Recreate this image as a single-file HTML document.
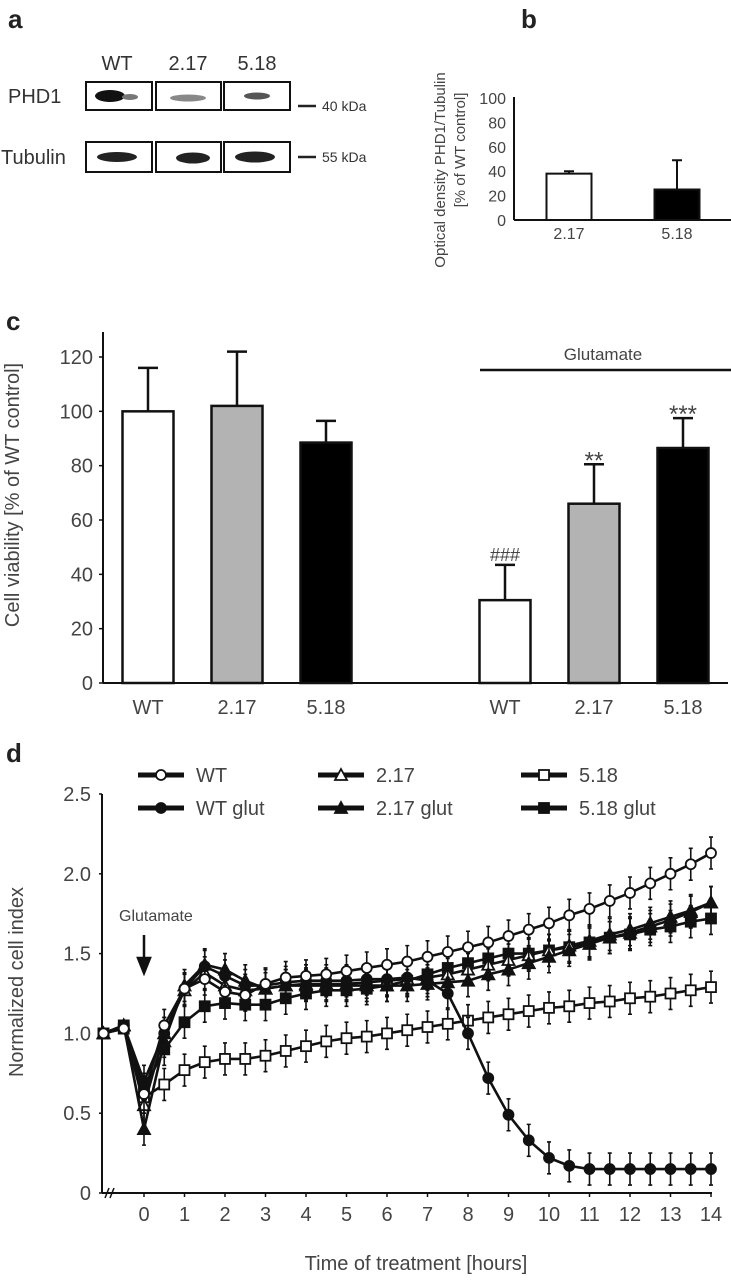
<!DOCTYPE html>
<html><head><meta charset="utf-8"><style>
html,body{margin:0;padding:0;background:#fff;}
svg{display:block;font-family:"Liberation Sans",Arial,sans-serif;}
</style></head><body>
<svg id="fig" width="731" height="1283" viewBox="0 0 731 1283" xmlns="http://www.w3.org/2000/svg">
<g id="pa">
<text x="8" y="28" font-size="26" font-weight="bold" fill="#222">a</text>
<text x="117" y="70" font-size="20" text-anchor="middle" fill="#333">WT</text>
<text x="188" y="70" font-size="20" text-anchor="middle" fill="#333">2.17</text>
<text x="257" y="70" font-size="20" text-anchor="middle" fill="#333">5.18</text>
<text x="8" y="103" font-size="20" fill="#333">PHD1</text>
<text x="1" y="164" font-size="20" fill="#333">Tubulin</text>
<g fill="none" stroke="#111" stroke-width="2">
<rect x="86" y="82" width="66" height="28"/><rect x="156" y="82" width="65" height="28"/><rect x="224" y="82" width="66" height="28"/>
<rect x="86" y="142" width="66" height="30"/><rect x="156" y="142" width="65" height="30"/><rect x="224" y="142" width="66" height="30"/>
</g>
<ellipse cx="110" cy="96" rx="15" ry="6" fill="#111"/>
<ellipse cx="130" cy="97" rx="8" ry="3" fill="#777"/>
<ellipse cx="188" cy="98" rx="18" ry="3.5" fill="#888"/>
<ellipse cx="257" cy="96" rx="13" ry="3.5" fill="#555"/>
<ellipse cx="117" cy="157" rx="20" ry="5" fill="#222"/>
<ellipse cx="193" cy="158" rx="17" ry="5.5" fill="#222"/>
<ellipse cx="255" cy="157" rx="20" ry="5.5" fill="#222"/>
<line x1="298" y1="106" x2="316" y2="106" stroke="#222" stroke-width="2.5"/>
<text x="322" y="111" font-size="14" fill="#333">40 kDa</text>
<line x1="298" y1="157" x2="316" y2="157" stroke="#222" stroke-width="2.5"/>
<text x="322" y="162" font-size="14" fill="#333">55 kDa</text>
</g>
<g id="pb"></g>
<g id="pc"></g>
<g id="pd"></g>
</svg>
<script>
// ---- Panel b data
const bCats = ["2.17","5.18"];
const bVals = [38, 25];
const bErr = [2, 24];
const bFills = ["#fff","#000"];
const bTicks = [0,20,40,60,80,100];
// ---- Panel c data
const cCats = ["WT","2.17","5.18","WT","2.17","5.18"];
const cVals = [100, 102, 88.5, 30.5, 66, 86.5];
const cErr = [16, 20, 8, 13, 14.5, 11];
const cFills = ["#fff","#b3b3b3","#000","#fff","#b3b3b3","#000"];
const cAnno = ["","","","###","**","***"];
const cTicks = [0,20,40,60,80,100,120];
// ---- Panel d data
const dTimes = [-1,-0.5,0,0.5,1,1.5,2,2.5,3,3.5,4,4.5,5,5.5,6,6.5,7,7.5,8,8.5,9,9.5,10,10.5,11,11.5,12,12.5,13,13.5,14];
const dWT = [1.0,1.03,0.62,1.05,1.28,1.34,1.26,1.24,1.31,1.35,1.36,1.37,1.39,1.41,1.43,1.45,1.48,1.51,1.54,1.57,1.61,1.65,1.69,1.74,1.78,1.83,1.88,1.94,2.0,2.06,2.13];
const dWTglut = [1.0,1.05,0.7,1.0,1.28,1.42,1.36,1.3,1.3,1.32,1.33,1.33,1.33,1.34,1.34,1.35,1.33,1.25,1.0,0.72,0.49,0.33,0.22,0.17,0.15,0.15,0.15,0.15,0.15,0.15,0.15];
const d217 = [1.0,1.05,0.55,1.0,1.27,1.38,1.3,1.27,1.28,1.3,1.31,1.31,1.31,1.32,1.33,1.34,1.35,1.37,1.4,1.43,1.46,1.49,1.52,1.55,1.58,1.62,1.65,1.69,1.73,1.77,1.82];
const d217glut = [1.0,1.05,0.4,0.95,1.3,1.43,1.4,1.33,1.28,1.3,1.3,1.3,1.3,1.3,1.3,1.3,1.31,1.32,1.33,1.37,1.4,1.44,1.48,1.52,1.56,1.6,1.63,1.67,1.71,1.76,1.82];
const d518 = [1.0,1.03,0.6,0.68,0.77,0.82,0.84,0.84,0.86,0.89,0.92,0.95,0.97,0.98,1.0,1.02,1.04,1.06,1.08,1.1,1.12,1.14,1.16,1.17,1.19,1.2,1.22,1.23,1.25,1.27,1.29];
const d518glut = [1.0,1.05,0.65,0.9,1.07,1.17,1.19,1.18,1.18,1.22,1.25,1.27,1.27,1.28,1.3,1.33,1.37,1.41,1.44,1.47,1.5,1.5,1.52,1.54,1.57,1.6,1.62,1.65,1.67,1.7,1.72];
const dErrSize = 0.1;
const dYTicks = [0,0.5,1.0,1.5,2.0,2.5];
const dYTickLabels = ["0","0.5","1.0","1.5","2.0","2.5"];
const dXTicks = [0,1,2,3,4,5,6,7,8,9,10,11,12,13,14];
const dSeriesNames = ["WT","2.17","5.18","WT glut","2.17 glut","5.18 glut"];

const NS="http://www.w3.org/2000/svg";
function mk(parent,tag,attrs,text){const e=document.createElementNS(NS,tag);for(const k in attrs)e.setAttribute(k,attrs[k]);if(text!==undefined)e.textContent=text;parent.appendChild(e);return e;}

// ---- Panel b
(function(){
const g=document.getElementById('pb');
const y=v=>220-v*(122/100);
const xc=[569,677], bw=45;
let t=mk(g,'text',{x:521,y:28,'font-size':26,'font-weight':'bold',fill:'#222'},'b');


let ax=mk(g,'line',{x1:514,y1:97,x2:514,y2:220,stroke:'#111','stroke-width':2});


let xa=mk(g,'line',{x1:514,y1:220,x2:731,y2:220,stroke:'#111','stroke-width':2});


bTicks.forEach(v=>{let l=mk(g,'text',{x:506,y:y(v)+6,'font-size':16,'text-anchor':'end',fill:'#444'},String(v));

});
bCats.forEach((c,i)=>{
 let ee=mk(g,'path',{d:`M${xc[i]} ${y(bVals[i])}V${y(bVals[i]+bErr[i])}M${xc[i]-5} ${y(bVals[i]+bErr[i])}H${xc[i]+5}`,stroke:'#111','stroke-width':2,fill:'none'});
 
 
 let r=mk(g,'rect',{x:xc[i]-bw/2,y:y(bVals[i]),width:bw,height:220-y(bVals[i]),fill:bFills[i],stroke:'#111','stroke-width':2});
 
 
 let l=mk(g,'text',{x:xc[i],y:239,'font-size':16,'text-anchor':'middle',fill:'#444'},c);
 
 
});
let yt=mk(g,'text',{transform:'translate(445,170) rotate(-90)','font-size':15,'text-anchor':'middle',fill:'#444'},'Optical density PHD1/Tubulin');


let yt2=mk(g,'text',{transform:'translate(465,150) rotate(-90)','font-size':15,'text-anchor':'middle',fill:'#444'},'[% of WT control]');


})();

// ---- Panel c
(function(){
const g=document.getElementById('pc');
const base=683, top120=357;
const y=v=>base-v*(base-top120)/120;
const x0=148, step=89, gap=179, bw=51;
const xc=cCats.map((c,i)=>x0+i*step+(i>=3?gap-step:0));
let t=mk(g,'text',{x:6,y:330,'font-size':26,'font-weight':'bold',fill:'#222'},'c');


let ax=mk(g,'line',{x1:103,y1:332,x2:103,y2:base,stroke:'#111','stroke-width':2});


let xa=mk(g,'line',{x1:103,y1:base,x2:728,y2:base,stroke:'#111','stroke-width':2});


cTicks.forEach(v=>{
 mk(g,'line',{x1:99,y1:y(v),x2:103,y2:y(v),stroke:'#111','stroke-width':1.5});
 let l=mk(g,'text',{x:93,y:y(v)+7,'font-size':20,'text-anchor':'end',fill:'#444'},String(v));
 
 
});
cCats.forEach((c,i)=>{
 const top=y(cVals[i]+cErr[i]);
 let ee=mk(g,'path',{d:`M${xc[i]} ${y(cVals[i])}V${top}M${xc[i]-10} ${top}H${xc[i]+10}`,stroke:'#111','stroke-width':2.5,fill:'none'});
 
 
 let r=mk(g,'rect',{x:xc[i]-bw/2,y:y(cVals[i]),width:bw,height:base-y(cVals[i]),fill:cFills[i],stroke:'#111','stroke-width':2.5});
 
 
 let l=mk(g,'text',{x:xc[i],y:714,'font-size':20,'text-anchor':'middle',fill:'#444'},c);
 
 
 if(cAnno[i]){let a=mk(g,'text',{x:xc[i],y:top-6+(cAnno[i][0]=='*'?10:2),'font-size':cAnno[i][0]=='*'?24:18,'text-anchor':'middle',fill:'#444'},cAnno[i]);
 
 }
});
let gl=mk(g,'line',{x1:480,y1:370,x2:731,y2:370,stroke:'#111','stroke-width':2.5});


let gt=mk(g,'text',{x:603,y:360,'font-size':17,'text-anchor':'middle',fill:'#444'},'Glutamate');


let yt=mk(g,'text',{transform:'translate(19,495) rotate(-90)','font-size':20,'text-anchor':'middle',fill:'#444'},'Cell viability [% of WT control]');


})();

// ---- Panel d
(function(){
const g=document.getElementById('pd');
const y0=1193, yPer=(1193-794)/2.5;
const y=v=>y0-v*yPer;
const x=h=>144+h*40.5;
let t=mk(g,'text',{x:6,y:762,'font-size':26,'font-weight':'bold',fill:'#222'},'d');


let ax=mk(g,'line',{x1:102,y1:794,x2:102,y2:y0,stroke:'#111','stroke-width':2});


let xa=mk(g,'line',{x1:102,y1:y0,x2:712,y2:y0,stroke:'#111','stroke-width':2});


let br=mk(g,'path',{d:'M105 1198L109 1188M110 1198L114 1188',stroke:'#111','stroke-width':1.5,fill:'none'});


dYTicks.forEach((v,i)=>{
 mk(g,'line',{x1:99,y1:y(v),x2:102,y2:y(v),stroke:'#111','stroke-width':1.5});
 let l=mk(g,'text',{x:91,y:y(v)+7,'font-size':20,'text-anchor':'end',fill:'#444'},dYTickLabels[i]);
 
 
});
dXTicks.forEach(h=>{
 mk(g,'line',{x1:x(h),y1:y0,x2:x(h),y2:y0+4,stroke:'#111','stroke-width':1.5});
 let l=mk(g,'text',{x:x(h),y:1221,'font-size':20,'text-anchor':'middle',fill:'#444'},String(h));
 
 
});
let xt=mk(g,'text',{x:416,y:1270,'font-size':20,'text-anchor':'middle',fill:'#444'},'Time of treatment [hours]');


let yt=mk(g,'text',{transform:'translate(23,982) rotate(-90)','font-size':20,'text-anchor':'middle',fill:'#444'},'Normalized cell index');


let gt=mk(g,'text',{x:119,y:921,'font-size':16,fill:'#444'},'Glutamate');


let ar=mk(g,'path',{d:'M144 935V962M138 958L144 973L150 958Z',stroke:'#111','stroke-width':2.5,fill:'#111'});



const series=[
 {v:d518,m:'sq',f:'#fff'},{v:d518glut,m:'sq',f:'#111'},
 {v:d217,m:'tri',f:'#fff'},{v:d217glut,m:'tri',f:'#111'},
 {v:dWTglut,m:'circ',f:'#111'},{v:dWT,m:'circ',f:'#fff'}
];
const names=["5.18","5.18 glut","2.17","2.17 glut","WT glut","WT"];
function marker(par,m,cx,cy,f){
 if(m=='circ') return mk(par,'circle',{cx:cx,cy:cy,r:5,fill:f,stroke:'#111','stroke-width':1.8});
 if(m=='sq') return mk(par,'rect',{x:cx-5,y:cy-5,width:10,height:10,fill:f,stroke:'#111','stroke-width':1.8});
 return mk(par,'path',{d:`M${cx} ${cy-6}L${cx+6} ${cy+5}L${cx-6} ${cy+5}Z`,fill:f,stroke:'#111','stroke-width':1.8});
}
series.forEach((s,si)=>{
 const sg=mk(g,'g',{});
 
 
 s.v.forEach((v,i)=>{
  if(dTimes[i]<0) return;
  mk(sg,'path',{d:`M${x(dTimes[i])} ${y(v-dErrSize)}V${y(v+dErrSize)}M${x(dTimes[i])-2} ${y(v-dErrSize)}H${x(dTimes[i])+2}M${x(dTimes[i])-2} ${y(v+dErrSize)}H${x(dTimes[i])+2}`,stroke:'#111','stroke-width':1.6,fill:'none'});
 });
 const pts=s.v.map((v,i)=>x(dTimes[i])+','+y(v)).join(' ');
 let pl=mk(sg,'polyline',{points:pts,fill:'none',stroke:'#111','stroke-width':2.6,'stroke-linejoin':'round'});
 
 
 s.v.forEach((v,i)=>{
  let mm=marker(sg,s.m,x(dTimes[i]),y(v),s.f);
  
  
 });
});
// legend
const leg=[
 {n:"WT",m:'circ',f:'#fff',x:138,y:775},{n:"WT glut",m:'circ',f:'#111',x:138,y:808},
 {n:"2.17",m:'tri',f:'#fff',x:318,y:775},{n:"2.17 glut",m:'tri',f:'#111',x:318,y:808},
 {n:"5.18",m:'sq',f:'#fff',x:521,y:775},{n:"5.18 glut",m:'sq',f:'#111',x:521,y:808}];
leg.forEach((l,i)=>{
 const lg=mk(g,'g',{});
 
 
 mk(lg,'line',{x1:l.x,y1:l.y,x2:l.x+46,y2:l.y,stroke:'#111','stroke-width':5});
 marker(lg,l.m,l.x+23,l.y,l.f);
 mk(lg,'text',{x:l.x+58,y:l.y+7,'font-size':20,fill:'#444'},l.n);
});
})();
</script>
</body></html>
